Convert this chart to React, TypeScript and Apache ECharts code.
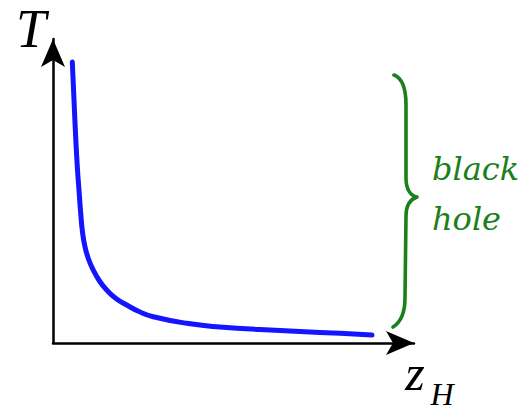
import React, { useEffect, useRef } from "react";
import * as echarts from "echarts";

// curve T(z_H) (arbitrary units, axes 0..10)
const zValues = [0.535, 0.582, 0.632, 0.679, 0.72, 0.767, 0.817, 0.886, 0.983, 1.116, 1.288, 1.488, 1.745, 2.042, 2.382, 2.778, 3.704, 4.626, 5.734, 6.842, 7.95, 8.837];
const tValues = [9.243, 7.993, 6.678, 5.691, 5.033, 4.276, 3.651, 3.168, 2.763, 2.401, 2.039, 1.743, 1.464, 1.25, 1.036, 0.865, 0.648, 0.526, 0.444, 0.378, 0.319, 0.263];

const yAxisName = "T";
const xAxisName = "z";
const xAxisSub = "H";
const braceLabel = ["black", "hole"];

const BRACE_D =
  "M394,75 C402,78 406,88 406,105 L406,178 C406,190 411,196 417,197 C411,199 406,205 406,216 L405,298 C405,312 401,322 393,327";

echarts.graphic.registerShape("brace", echarts.graphic.extendPath(BRACE_D, {}));

export default function App() {
  const ref = useRef<HTMLDivElement>(null);
  useEffect(() => {
    if (!ref.current) return;
    const chart = echarts.init(ref.current, null, { renderer: "svg" });
    const green = "#1b801b";
    const axisCommon = {
      type: "value" as const,
      min: 0,
      max: 10,
      axisLine: {
        show: true,
        symbol: ["none", "arrow"],
        symbolSize: [18, 28],
        lineStyle: { color: "#000", width: 2.5 },
      },
      axisTick: { show: false },
      axisLabel: { show: false },
      splitLine: { show: false },
    };
    const serif = "'Liberation Serif', 'Times New Roman', serif";
    const dserif = "'DejaVu Serif', serif";
    chart.setOption({
      animation: false,
      backgroundColor: "#fff",
      grid: { left: 53, right: 112, top: 39, bottom: 68 },
      xAxis: axisCommon,
      yAxis: axisCommon,
      series: [
        {
          type: "line",
          data: zValues.map((z, i) => [z, tValues[i]]),
          smooth: 0.5,
          symbol: "none",
          lineStyle: { color: "#1414ff", width: 5, cap: "round", join: "round" },
        },
      ],
      graphic: [
        {
          type: "brace",
          x: 0,
          y: 0,
          style: { fill: "none", stroke: green, lineWidth: 3.6, lineCap: "round", lineJoin: "round" },
        },
        {
          type: "text",
          x: 31,
          y: 29,
          style: {
            text: yAxisName,
            fontFamily: serif,
            fontStyle: "italic",
            fontSize: 54,
            fill: "#000",
            align: "center",
            verticalAlign: "middle",
          },
        },
        {
          type: "text",
          x: 415,
          y: 373,
          style: {
            text: xAxisName,
            fontFamily: serif,
            fontStyle: "italic",
            fontSize: 50,
            fill: "#000",
            align: "center",
            verticalAlign: "middle",
          },
        },
        {
          type: "text",
          x: 442,
          y: 394,
          style: {
            text: xAxisSub,
            fontFamily: serif,
            fontStyle: "italic",
            fontSize: 32,
            fill: "#000",
            align: "center",
            verticalAlign: "middle",
          },
        },
        {
          type: "text",
          x: 432,
          y: 169,
          style: {
            text: braceLabel[0],
            fontFamily: dserif,
            fontStyle: "italic",
            fontSize: 32,
            fill: green,
            align: "left",
            verticalAlign: "middle",
          },
        },
        {
          type: "text",
          x: 432,
          y: 219,
          style: {
            text: braceLabel[1],
            fontFamily: dserif,
            fontStyle: "italic",
            fontSize: 32,
            fill: green,
            align: "left",
            verticalAlign: "middle",
          },
        },
      ],
    });
    return () => chart.dispose();
  }, []);
  return (
    <div
      ref={ref}
      style={{ position: "absolute", left: 0, top: 0, width: 526, height: 411 }}
    />
  );
}
